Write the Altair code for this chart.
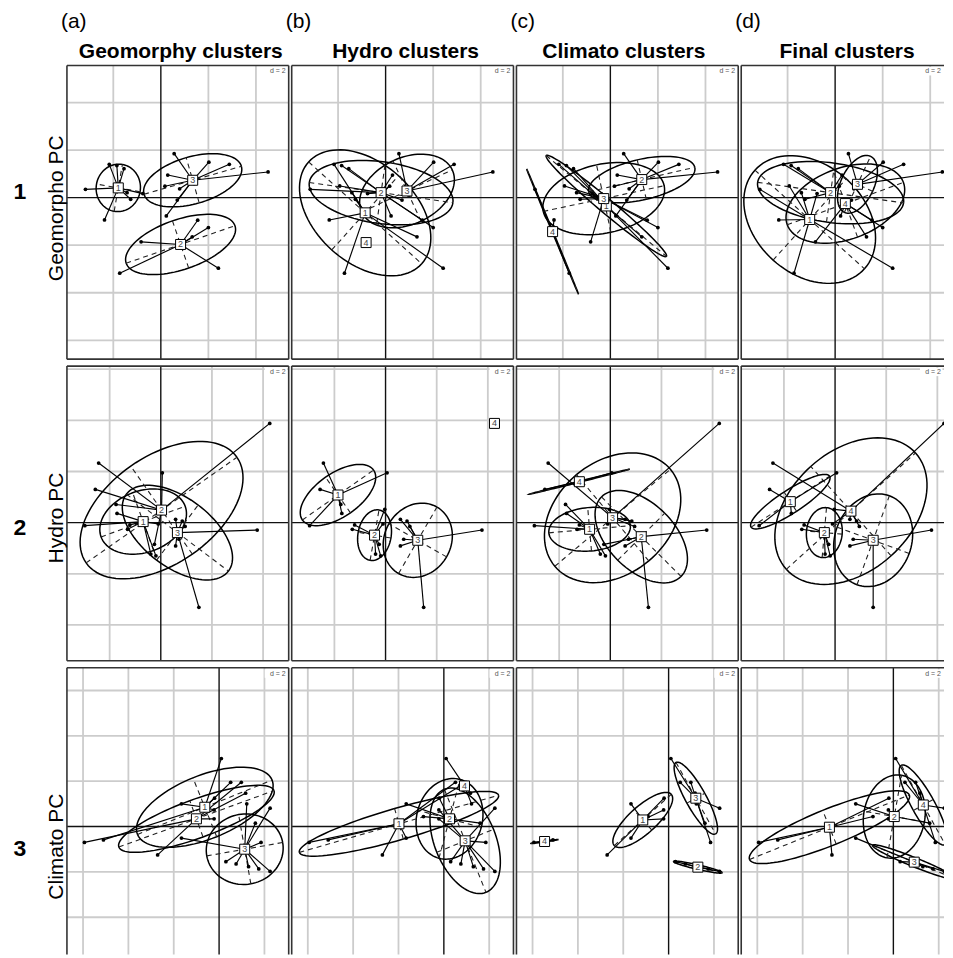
import altair as alt
import numpy as np
import pandas as pd

FONT = "Liberation Sans"

# ---------------- labels ----------------
COL_TAGS = ["(a)", "(b)", "(c)", "(d)"]
COL_TITLES = ["Geomorphy clusters", "Hydro clusters", "Climato clusters", "Final clusters"]
ROW_NUMS = ["1", "2", "3"]
ROW_TITLES = ["Geomorpho PC", "Hydro PC", "Climato PC"]

# ---------------- row windows (PC units) ----------------
X_MIN = [-3.95, -3.67, -6.71]
Y_MAX = [5.56, 6.12, 7.0]
PX_PER_UNIT = [23.8, 25.6, 22.7]
GRID_X = [[-2, 2, 4], [-2, 2, 4], [-6, -4, -2, 2]]
GRID_Y = [[-6, -4, -2, 2, 4], [-4, -2, 2, 4, 6], [-4, -2, 2, 4, 6]]

# ---------------- row 1: Geomorpho PC scores ----------------
R1_X = [-3.17, -2.17, -1.85, -1.55, -2.37, -1.27, -0.76, -1.93, -1.42, 0.56, 0.29, 0.17,
        0.79, 0.69, 0.23, 2.02, 2.88, 4.51, -0.83, -1.73, 1.55, 2.00, 2.42, 1.32]
R1_Y = [0.35, 1.40, 1.35, 1.22, -0.94, -0.07, 0.17, 0.49, 0.21, 1.85, 0.95, 0.48,
        0.37, -0.10, -0.77, 1.49, 1.40, 1.08, -1.86, -3.18, -0.95, -1.26, -2.97, -1.65]
R1A_LAB = [1, 1, 1, 1, 1, 1, 1, 1, 1, 3, 3, 3, 3, 3, 3, 3, 3, 3, 2, 2, 2, 2, 2, 2]
R1B_LAB = [2, 1, 2, 2, 1, 1, 2, 2, 1, 3, 2, 2, 3, 2, 2, 3, 3, 3, 4, 1, 2, 2, 1, 1]
R1C_LAB = [4, 1, 1, 1, 4, 3, 3, 3, 3, 2, 2, 2, 2, 2, 2, 2, 2, 2, 3, 4, 3, 3, 1, 1]
R1D_LAB = [1, 2, 2, 2, 1, 2, 1, 1, 1, 3, 2, 2, 3, 4, 4, 3, 3, 3, 4, 1, 4, 4, 1, 4]

R1A_CX = [-1.79, 0.83, 1.34]
R1A_CY = [0.41, -1.97, 0.73]
R1A_EA = [1.0, 2.42, 2.13]
R1A_EB = [0.93, 1.05, 0.99]
R1A_ET = [80, 19, 16]

R1B_CX = [-0.86, -0.19, 0.90, -0.82]
R1B_CY = [-0.64, 0.21, 0.28, -1.89]
R1B_EA = [3.2, 3.05, 2.1, 0]
R1B_EB = [2.1, 1.3, 1.4, 0]
R1B_ET = [-42, -8, 25, 0]

R1C_CX = [-0.17, 1.32, -0.28, -2.43]
R1C_CY = [-0.35, 0.76, -0.04, -1.43]
R1C_EA = [3.3, 2.29, 2.6, 2.85]
R1C_EB = [0.3, 0.85, 1.45, 0.02]
R1C_ET = [-40, 13, 12, -67.5]

R1D_CX = [-1.07, -0.19, 0.94, 0.43]
R1D_CY = [-0.92, 0.21, 0.56, -0.25]
R1D_EA = [3.1, 3.1, 1.3, 2.6]
R1D_EB = [2.3, 1.25, 0.7, 1.5]
R1D_ET = [-42, -8, 65, 20]

# ---------------- row 2: Hydro PC scores ----------------
R2_X = [4.26, -2.43, -2.56, -1.75, -1.71, -2.97, 0.06, 3.77, 1.49, -1.21, -1.30,
        -0.39, -0.19, -0.03, -0.25, 0.58, 0.84, 0.71, 0.58, 0.95, -0.10]
R2_Y = [3.88, 2.33, 1.30, 0.71, 0.36, -0.12, 1.95, -0.29, -3.31, -0.09, -0.26,
        -1.23, -1.30, 0.52, -0.85, 0.13, 0.06, -0.65, -0.91, -0.15, -0.05]
R2A_LAB = [2, 2, 2, 2, 1, 1, 2, 3, 3, 1, 1, 1, 1, 2, 2, 3, 3, 3, 3, 3, 1]
R2B_LAB = [4, 1, 1, 1, 1, 1, 1, 3, 3, 2, 2, 2, 2, 2, 2, 3, 3, 3, 3, 3, 2]
R2C_LAB = [3, 3, 4, 1, 1, 1, 4, 2, 2, 1, 1, 1, 1, 3, 2, 3, 3, 2, 2, 3, 3]
R2D_LAB = [4, 4, 1, 1, 1, 1, 1, 3, 3, 2, 2, 2, 2, 4, 2, 4, 4, 3, 3, 4, 4]

R2A_CX = [-0.69, 0.03, 0.65]
R2A_CY = [0.04, 0.49, -0.39]
R2A_EA = [1.75, 3.6, 2.5]
R2A_EB = [1.2, 2.1, 1.35]
R2A_ET = [20, 35, -37]

R2B_CX = [-1.86, -0.43, 1.26, 4.26]
R2B_CY = [1.08, -0.49, -0.69, 3.88]
R2B_EA = [1.7, 1.0, 1.5, 0]
R2B_EB = [0.85, 0.65, 1.3, 0]
R2B_ET = [35, 80, 60, 0]

R2C_CX = [-0.81, 1.21, 0.09, -1.21]
R2C_CY = [-0.26, -0.55, 0.19, 1.60]
R2C_EA = [1.6, 2.2, 2.95, 2.03]
R2C_EB = [0.85, 1.3, 2.2, 0.02]
R2C_ET = [5, -45, 40, 14]

R2D_CX = [-1.75, -0.42, 1.49, 0.62]
R2D_CY = [0.82, -0.39, -0.69, 0.45]
R2D_EA = [1.83, 0.98, 1.85, 3.4]
R2D_EB = [0.45, 0.7, 1.5, 2.35]
R2D_ET = [33, 85, 70, 42]

# ---------------- row 3: Climato PC scores ----------------
R3_X = [-5.94, -5.10, -2.71, -1.66, -1.66, 0.10, 0.51, 0.98, 1.17, 1.22, 1.85,
        2.25, 0.30, 0.75, 1.30, 1.75, 2.25, -0.20, -0.22, -0.22, -0.90, 1.60]
R3_Y = [-0.70, -0.59, -1.25, 1.00, -0.51, 3.00, 1.95, 1.95, 1.47, 1.00, -0.70,
        -1.98, -1.55, -1.65, -1.77, -1.87, 0.81, 1.25, 0.73, 0.34, 0.44, 0.15]
R3A_LAB = [2, 1, 2, 1, 3, 1, 1, 2, 2, 3, 3, 3, 3, 3, 3, 3, 3, 1, 1, 2, 2, 3]
R3B_LAB = [1, 1, 1, 2, 1, 4, 1, 1, 4, 4, 3, 3, 3, 3, 3, 3, 3, 2, 3, 3, 2, 2]
R3C_LAB = [4, 4, 1, 1, 1, 3, 3, 3, 3, 3, 3, 2, 2, 2, 2, 2, 3, 1, 1, 1, 1, 3]
R3D_LAB = [1, 1, 1, 2, 3, 4, 4, 4, 4, 4, 4, 3, 3, 3, 3, 3, 4, 1, 2, 2, 1, 2]

R3A_CX = [-0.63, -1.0, 1.13]
R3A_CY = [0.85, 0.34, -1.0]
R3A_EA = [3.2, 3.64, 1.7]
R3A_EB = [1.4, 0.85, 1.55]
R3A_ET = [22, 20, 10]

R3B_CX = [-1.98, 0.25, 0.94, 0.91]
R3B_CY = [0.12, 0.34, -0.63, 1.79]
R3B_EA = [4.57, 1.8, 2.45, 0]
R3B_EB = [0.7, 1.45, 1.35, 0]
R3B_ET = [16, 75, -68, 0]

R3C_CX = [-1.14, 1.29, 1.2, -5.47]
R3C_CY = [0.29, -1.79, 1.25, -0.66]
R3C_EA = [1.69, 1.1, 1.8, 0.61]
R3C_EB = [0.6, 0.1, 0.45, 0.02]
R3C_ET = [42, -13, -61, 8]

R3D_CX = [-2.82, 0.04, 0.92, 1.32]
R3D_CY = [-0.03, 0.44, -1.57, 0.95]
R3D_EA = [3.8, 1.85, 1.98, 2.0]
R3D_EB = [0.8, 1.35, 0.2, 0.5]
R3D_ET = [22, 80, -22, -61]

ROWS_X = [R1_X, R2_X, R3_X]
ROWS_Y = [R1_Y, R2_Y, R3_Y]
PANELS = [
    [(R1A_LAB, R1A_CX, R1A_CY, R1A_EA, R1A_EB, R1A_ET),
     (R1B_LAB, R1B_CX, R1B_CY, R1B_EA, R1B_EB, R1B_ET),
     (R1C_LAB, R1C_CX, R1C_CY, R1C_EA, R1C_EB, R1C_ET),
     (R1D_LAB, R1D_CX, R1D_CY, R1D_EA, R1D_EB, R1D_ET)],
    [(R2A_LAB, R2A_CX, R2A_CY, R2A_EA, R2A_EB, R2A_ET),
     (R2B_LAB, R2B_CX, R2B_CY, R2B_EA, R2B_EB, R2B_ET),
     (R2C_LAB, R2C_CX, R2C_CY, R2C_EA, R2C_EB, R2C_ET),
     (R2D_LAB, R2D_CX, R2D_CY, R2D_EA, R2D_EB, R2D_ET)],
    [(R3A_LAB, R3A_CX, R3A_CY, R3A_EA, R3A_EB, R3A_ET),
     (R3B_LAB, R3B_CX, R3B_CY, R3B_EA, R3B_EB, R3B_ET),
     (R3C_LAB, R3C_CX, R3C_CY, R3C_EA, R3C_EB, R3C_ET),
     (R3D_LAB, R3D_CX, R3D_CY, R3D_EA, R3D_EB, R3D_ET)],
]

# ---------------- layout (pixels) ----------------
WIDTHS = [222, 222, 222, 203]        # last column is cut by the page edge
HEIGHTS = [294, 295, 287]            # last row is cut by the page edge
TITLE_X = [114, 114, 107.5, 106]
ROW_NUM_Y = [127, 162, 181]
ROW_LAB_Y = [143, 152, 179]
FRAME = "#333333"
INK = "#000000"


def ellipse_frame(cx, cy, ea, eb, et):
    rows = []
    for k in range(len(cx)):
        if ea[k] <= 0:
            continue
        th = np.deg2rad(et[k])
        for i, s in enumerate(np.linspace(0, 2 * np.pi, 97)):
            rows.append(dict(
                k=k + 1, i=i,
                x=cx[k] + ea[k] * np.cos(s) * np.cos(th) - eb[k] * np.sin(s) * np.sin(th),
                y=cy[k] + ea[k] * np.cos(s) * np.sin(th) + eb[k] * np.sin(s) * np.cos(th)))
    return pd.DataFrame(rows)


def axes_frame(cx, cy, ea, eb, et):
    rows = []
    for k in range(len(cx)):
        if ea[k] <= 0:
            continue
        th = np.deg2rad(et[k])
        u = (np.cos(th), np.sin(th))
        v = (-np.sin(th), np.cos(th))
        for L, d in ((ea[k], u), (eb[k], v)):
            rows.append(dict(x=cx[k] - L * d[0], y=cy[k] - L * d[1],
                             x2=cx[k] + L * d[0], y2=cy[k] + L * d[1]))
    return pd.DataFrame(rows)


def panel(r, c):
    lab, cx, cy, ea, eb, et = PANELS[r][c]
    W = WIDTHS[c]
    H = HEIGHTS[r]
    ppu = PX_PER_UNIT[r]
    xs = alt.Scale(domain=[X_MIN[r], X_MIN[r] + W / ppu], nice=False, zero=False)
    ys = alt.Scale(domain=[Y_MAX[r] - H / ppu, Y_MAX[r]], nice=False, zero=False)

    def X(f):
        return alt.X(f, type="quantitative", scale=xs, axis=None)

    def Y(f):
        return alt.Y(f, type="quantitative", scale=ys, axis=None)

    pts = pd.DataFrame({
        "x": ROWS_X[r], "y": ROWS_Y[r],
        "cx": [cx[l - 1] for l in lab], "cy": [cy[l - 1] for l in lab]})
    cents = pd.DataFrame({"x": cx, "y": cy, "lab": [str(i + 1) for i in range(len(cx))]})
    ell = ellipse_frame(cx, cy, ea, eb, et)
    axs = axes_frame(cx, cy, ea, eb, et)
    one = pd.DataFrame({"a": [0]})

    layers = [
        alt.Chart(pd.DataFrame({"v": GRID_X[r]})).mark_rule(color="#cccccc", strokeWidth=1.8).encode(x=X("v")),
        alt.Chart(pd.DataFrame({"v": GRID_Y[r]})).mark_rule(color="#cccccc", strokeWidth=1.8).encode(y=Y("v")),
        alt.Chart(pd.DataFrame({"v": [0]})).mark_rule(color="#111111", strokeWidth=1.4).encode(x=X("v")),
        alt.Chart(pd.DataFrame({"v": [0]})).mark_rule(color="#111111", strokeWidth=1.4).encode(y=Y("v")),
        alt.Chart(ell).mark_line(color=INK, strokeWidth=1.5, clip=True).encode(
            x=X("x"), y=Y("y"), order="i:Q", detail="k:N"),
        alt.Chart(axs).mark_rule(color="#222222", strokeWidth=1.1, strokeDash=[5, 4], clip=True).encode(
            x=X("x"), y=Y("y"), x2="x2", y2="y2"),
        alt.Chart(pts).mark_rule(color=INK, strokeWidth=1.15, clip=True).encode(
            x=X("x"), y=Y("y"), x2="cx", y2="cy"),
        alt.Chart(pts).mark_circle(color=INK, size=14, opacity=1, clip=True).encode(
            x=X("x"), y=Y("y")),
        alt.Chart(cents).mark_square(size=100, fill="white", stroke=INK, strokeWidth=1.0,
                                     opacity=1, filled=False, clip=True).encode(x=X("x"), y=Y("y")),
        alt.Chart(cents).mark_text(fontSize=9, color="#444444", font=FONT, baseline="middle",
                                   align="center", clip=True).encode(
            x=X("x"), y=Y("y"), text="lab:N"),
        alt.Chart(one).mark_rect(color="white").encode(
            x=alt.value(W - 24), x2=alt.value(W - 1.5), y=alt.value(1.5), y2=alt.value(10)),
        alt.Chart(one).mark_text(text="d = 2", align="right", baseline="alphabetic", fontSize=7,
                                 color="#555555", font=FONT).encode(x=alt.value(W - 3), y=alt.value(8)),
        # frame (open on the sides cut by the page edge)
        alt.Chart(one).mark_rule(color=FRAME, strokeWidth=1.6).encode(x=alt.value(0)),
        alt.Chart(one).mark_rule(color=FRAME, strokeWidth=1.6).encode(y=alt.value(0)),
    ]
    if c < 3:
        layers.append(alt.Chart(one).mark_rule(color=FRAME, strokeWidth=1.6).encode(x=alt.value(W)))
    if r < 2:
        layers.append(alt.Chart(one).mark_rule(color=FRAME, strokeWidth=1.6).encode(y=alt.value(H)))
    if r == 0:
        layers.append(alt.Chart(one).mark_text(text=COL_TAGS[c], align="left", baseline="alphabetic",
                                               fontSize=21, font=FONT, color="black").encode(
            x=alt.value(-6), y=alt.value(-37)))
        layers.append(alt.Chart(one).mark_text(text=COL_TITLES[c], align="center", baseline="alphabetic",
                                               fontSize=21, fontWeight="bold", font=FONT,
                                               color="black").encode(x=alt.value(TITLE_X[c]), y=alt.value(-7)))
        layers.append(alt.Chart(one).mark_rule(color="white", strokeWidth=0.5).encode(
            y=alt.value(-56), x=alt.value(0), x2=alt.value(4)))
    if c == 0:
        layers.append(alt.Chart(one).mark_text(text=ROW_NUMS[r], align="center", baseline="middle",
                                               fontSize=23, fontWeight="bold", font=FONT,
                                               color="black").encode(x=alt.value(-47), y=alt.value(ROW_NUM_Y[r])))
        layers.append(alt.Chart(one).mark_text(text=ROW_TITLES[r], align="center", baseline="alphabetic",
                                               angle=270, fontSize=21, font=FONT,
                                               color="black").encode(x=alt.value(-4), y=alt.value(ROW_LAB_Y[r])))
        layers.append(alt.Chart(one).mark_rule(color="white", strokeWidth=0.5).encode(
            x=alt.value(-58), y=alt.value(0), y2=alt.value(4)))
    return alt.layer(*layers).properties(width=W, height=H)


rows = [alt.hconcat(*[panel(r, c) for c in range(4)], spacing=3, bounds="flush") for r in range(3)]
chart = alt.vconcat(*rows, spacing=5).properties(padding=0).configure_view(strokeWidth=0)

chart.save("out.html", embed_options={"renderer": "svg", "actions": False})
